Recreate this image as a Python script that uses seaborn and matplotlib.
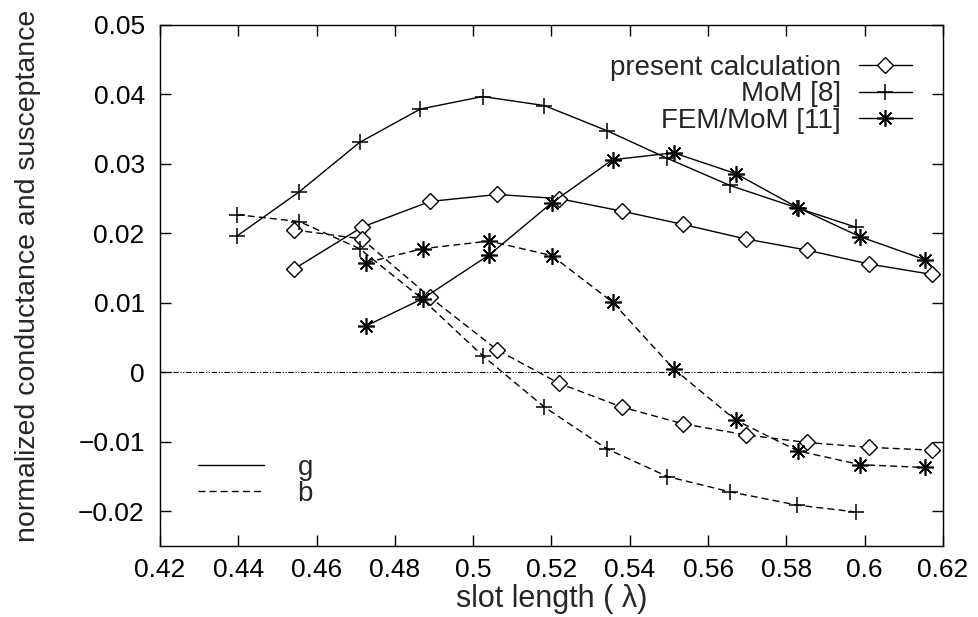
import matplotlib
matplotlib.use("Agg")
import matplotlib.pyplot as plt
from matplotlib.lines import Line2D
import seaborn as sns
import pandas as pd

# slot length (in wavelengths) and normalized admittance for each method
x_present = [0.4543, 0.4716, 0.4890, 0.5062, 0.5220, 0.5380, 0.5535, 0.5696, 0.5852, 0.6010, 0.6171]
g_present = [0.0149, 0.0209, 0.0246, 0.0256, 0.0250, 0.0232, 0.0213, 0.0192, 0.0176, 0.0156, 0.0141]
b_present = [0.0205, 0.0192, 0.0108, 0.0032, -0.0016, -0.0050, -0.0074, -0.0090, -0.0101, -0.0108, -0.0112]

x_mom = [0.4396, 0.4556, 0.4710, 0.4865, 0.5024, 0.5182, 0.5341, 0.5496, 0.5656, 0.5826, 0.5977]
g_mom = [0.0196, 0.0260, 0.0331, 0.0379, 0.0397, 0.0384, 0.0348, 0.0308, 0.0269, 0.0237, 0.0209]
b_mom = [0.0227, 0.0217, 0.0178, 0.0108, 0.0024, -0.0050, -0.0110, -0.0150, -0.0172, -0.0191, -0.0201]

x_fem = [0.4727, 0.4871, 0.5041, 0.5201, 0.5356, 0.5512, 0.5671, 0.5829, 0.5989, 0.6155]
g_fem = [0.0067, 0.0106, 0.0169, 0.0244, 0.0306, 0.0316, 0.0286, 0.0237, 0.0195, 0.0162]
b_fem = [0.0158, 0.0178, 0.0189, 0.0168, 0.0101, 0.0005, -0.0069, -0.0113, -0.0133, -0.0137]

method_names = ["present calculation", "MoM [8]", "FEM/MoM [11]"]
part_names = ["g", "b"]

x_ticks = [0.42, 0.44, 0.46, 0.48, 0.50, 0.52, 0.54, 0.56, 0.58, 0.60, 0.62]
x_tick_labels = ["0.42", "0.44", "0.46", "0.48", "0.5", "0.52", "0.54", "0.56", "0.58", "0.6", "0.62"]
y_ticks = [-0.02, -0.01, 0.0, 0.01, 0.02, 0.03, 0.04, 0.05]
y_tick_labels = ["\u22120.02", "\u22120.01", "0", "0.01", "0.02", "0.03", "0.04", "0.05"]

sns.set_style("ticks")
plt.rcParams["font.family"] = ["Liberation Sans", "DejaVu Sans"]

fig = plt.figure(figsize=(9.79, 6.17), dpi=100)
ax = fig.add_axes([0.1634, 0.1151, 0.7998, 0.8444])

marker_styles = {
    "present calculation": dict(marker="D", markersize=8, markerfacecolor="white",
                                markeredgecolor="black", markeredgewidth=1.0),
    "MoM [8]": dict(marker="+", markersize=11, markeredgecolor="black", markeredgewidth=1.1),
    "FEM/MoM [11]": dict(marker=(8, 2, 0), markersize=12, markeredgecolor="black",
                         markeredgewidth=1.2),
}

series = [
    ("present calculation", x_present, g_present, b_present),
    ("MoM [8]", x_mom, g_mom, b_mom),
    ("FEM/MoM [11]", x_fem, g_fem, b_fem),
]

line_kw = dict(color="black", linewidth=1.0)
for name, xs, gs, bs in series:
    df = pd.DataFrame({"length": xs, "g": gs, "b": bs})
    sns.lineplot(data=df, x="length", y="g", ax=ax, linestyle="-",
                 **line_kw, **marker_styles[name])
    sns.lineplot(data=df, x="length", y="b", ax=ax, dashes=False, linestyle=(0, (5, 3)),
                 **line_kw, **marker_styles[name])

ax.axhline(0, color="black", linewidth=0.8, linestyle=(0, (5, 1.5, 1, 1.5, 1, 1.5)), zorder=1)

ax.set_xlim(0.42, 0.62)
ax.set_ylim(-0.025, 0.05)
ax.set_xticks(x_ticks)
ax.set_xticklabels(x_tick_labels)
ax.set_yticks(y_ticks)
ax.set_yticklabels(y_tick_labels)
ax.tick_params(axis="both", direction="in", length=8, width=1.0, top=True, right=True,
               labelsize=19, colors="black")
ax.tick_params(axis="x", pad=9)
ax.tick_params(axis="y", pad=11)
for sp in ax.spines.values():
    sp.set_visible(True)
    sp.set_linewidth(1.0)
    sp.set_color("black")

ax.set_xlabel("slot length ( \u03bb)", fontsize=22, labelpad=1)
ax.set_ylabel("normalized conductance and susceptance", fontsize=20.5)
ax.yaxis.set_label_coords(-0.152, 0.518)

method_handles = [Line2D([], [], linestyle="-", **line_kw, **marker_styles[n]) for n in method_names]
leg1 = ax.legend(method_handles, method_names, loc="upper right", bbox_to_anchor=(0.96, 0.943),
                 frameon=False, markerfirst=False, fontsize=20, labelspacing=0.02,
                 handlelength=1.9, handletextpad=0.65, borderpad=0, borderaxespad=0)
ax.add_artist(leg1)

part_handles = [Line2D([], [], linestyle="-", **line_kw),
                Line2D([], [], linestyle=(0, (5, 3)), **line_kw)]
ax.legend(part_handles, part_names, loc="lower left", bbox_to_anchor=(0.048, 0.075),
          frameon=False, fontsize=20, labelspacing=0.0, handlelength=2.4,
          handletextpad=1.2, borderpad=0, borderaxespad=0)

fig.savefig("out.png", dpi=100, facecolor="white")
